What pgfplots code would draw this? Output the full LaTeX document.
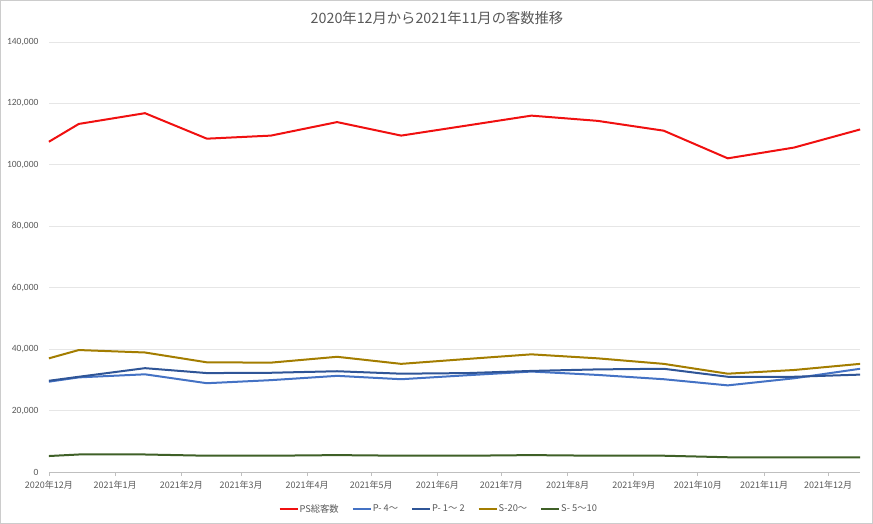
\documentclass[border=0pt]{standalone}
\usepackage{pgfplots}
\pgfplotsset{compat=1.18}
\usepackage{pgfplotstable}
\usepackage{fontspec}
\setmainfont{Noto Sans CJK JP}
\newfontfamily\carlito{Carlito}
\definecolor{cred}{HTML}{F01010}
\definecolor{cblue}{HTML}{4472C4}
\definecolor{cdblue}{HTML}{2F5597}
\definecolor{cgold}{HTML}{A37D00}
\definecolor{cgreen}{HTML}{3F6027}
\definecolor{ctext}{HTML}{595959}
\definecolor{cgrid}{HTML}{E6E6E6}
% x = days since 2020-12-01
\pgfplotstableread{
x    ps     p4    p12   s20   s510
0    107500 29400 29700 37000 5200
14   113300 30800 31000 39700 5700
45   116800 31800 33800 38900 5700
74   108500 28900 32200 35700 5300
104  109500 29900 32300 35600 5300
135  113900 31300 32800 37500 5500
165  109500 30200 32000 35200 5300
196  112800 31500 32200 36800 5300
226  116000 32700 32900 38300 5500
257  114300 31600 33400 37000 5300
288  111100 30200 33600 35200 5300
318  102100 28200 31000 32000 4800
349  105600 30500 31000 33200 4800
380  111500 33600 31700 35200 4800
}\datatable
\begin{document}
\begin{tikzpicture}[x=1pt,y=1pt]
\draw[draw=black!20,line width=0.8pt] (0.5,0.5) rectangle (872.5,523.5);
\node[text=ctext,font=\fontsize{14.3}{17}\selectfont] at (437,506) {2020年12月から2021年11月の客数推移};
\begin{axis}[
  at={(49pt,52pt)}, anchor=south west,
  width=811pt, height=430pt, scale only axis,
  xmin=0, xmax=380, ymin=0, ymax=140000,
  axis x line*=bottom, axis y line*=left,
  x axis line style={draw=black!25,line width=0.8pt},
  y axis line style={draw=none},
  xtick={0,31,62,90,121,151,182,212,243,274,304,335,365},
  xticklabels={2020年12月,2021年1月,2021年2月,2021年3月,2021年4月,2021年5月,2021年6月,2021年7月,2021年8月,2021年9月,2021年10月,2021年11月,2021年12月},
  xtick style={draw=black!25,line width=0.8pt},
  tick align=outside, major tick length=4pt,
  ytick={0,20000,...,140000},
  ytick style={draw=none},
  ymajorgrids, grid style={draw=cgrid,line width=0.8pt},
  scaled y ticks=false,
  yticklabel={\pgfmathprintnumber[assume math mode=true,fixed,1000 sep={,}]{\tick}},
  yticklabel style={font=\carlito\fontsize{9.5}{11}\selectfont,text=ctext,xshift=-3pt},
  xticklabel style={font=\fontsize{9}{11}\selectfont,text=ctext,yshift=-1pt},
  legend columns=5,
  legend style={at={(0.48,-0.086)},anchor=center,draw=none,fill=none,
    font=\fontsize{9.3}{11}\selectfont,text=ctext,
    nodes={inner sep=1pt},
    /tikz/every even column/.append style={column sep=12pt}},
  legend image code/.code={\draw[#1,line width=2pt] (0pt,0pt) -- (18pt,0pt);},
  every axis plot/.append style={line width=2pt,mark=none,line join=round},
  clip=false,
]
\addplot[cred] table[x=x,y=ps] {\datatable};
\addlegendentry{PS総客数}
\addplot[cblue] table[x=x,y=p4] {\datatable};
\addlegendentry{P- 4〜}
\addplot[cdblue] table[x=x,y=p12] {\datatable};
\addlegendentry{P- 1〜 2}
\addplot[cgold] table[x=x,y=s20] {\datatable};
\addlegendentry{S-20〜}
\addplot[cgreen] table[x=x,y=s510] {\datatable};
\addlegendentry{S- 5〜10}
\end{axis}
\end{tikzpicture}
\end{document}
